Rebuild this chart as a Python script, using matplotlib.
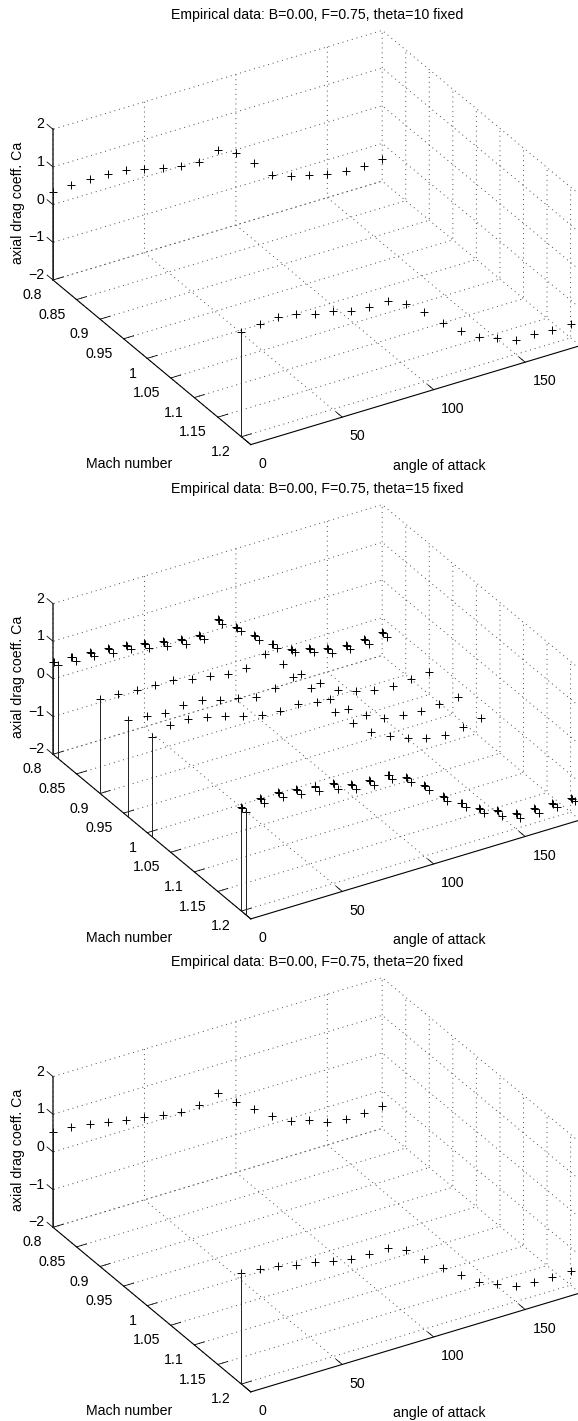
import numpy as np
import matplotlib
matplotlib.use('Agg')
import matplotlib.pyplot as plt
from mpl_toolkits.mplot3d import proj3d

plt.rcParams['font.family'] = ['Liberation Sans', 'DejaVu Sans']
plt.rcParams['font.size'] = 10.2
plt.rcParams['grid.linestyle'] = (0, (1, 4))
plt.rcParams['grid.linewidth'] = 0.7
plt.rcParams['grid.color'] = '#484848'
plt.rcParams['xtick.major.width'] = 0.6
plt.rcParams['ytick.major.width'] = 0.6
plt.rcParams['axes.linewidth'] = 0.7

WIDTH = 578
HEIGHT = 1421

alpha = list(range(0, 190, 10))

mach_ticks = [0.8, 0.85, 0.9, 0.95, 1, 1.05, 1.1, 1.15, 1.2]
mach_labels = ['0.8', '0.85', '0.9', '0.95', '1', '1.05', '1.1', '1.15', '1.2']
alpha_ticks = [0, 50, 100, 150]
ca_ticks = [-2, -1, 0, 1, 2]
ca_labels = ['\u22122', '\u22121', '0', '1', '2']

# theta = 10
ca10_m080 = [.345, .375, .388, .374, .326, .205, .104, .01, -.048, .15, -.094, -.488, -.962, -1.135, -1.255, -1.383, -1.45, -1.455, -1.425]
ca10_m120 = [.788, .853, .884, .826, .688, .621, .458, .426, .439, .204, -.147, -.576, -.944, -1.258, -1.423, -1.631, -1.619, -1.641, -1.628]

# theta = 15
ca15_m080 = [.46, .446, .424, .383, .317, .214, .12, .036, .004, .274, -.076, -.444, -.812, -1.109, -1.22, -1.366, -1.434, -1.42, -1.39]
ca15_m081 = [.487, .446, .424, .365, .308, .205, .102, .018, -.005, .256, -.085, -.471, -.83, -1.074, -1.22, -1.384, -1.443, -1.438, -1.408]
ca15_m090 = [.512, .488, .458, .435, .421, .319, .234, .15, .153, .379, -.034, -.437, -.822, -1.137, -1.327, -1.43, -1.471, -1.449, -1.41]
ca15_m096 = [.566, .526, .468, .534, .52, .382, .288, .169, .261, .398, -.032, -.462, -.882, -1.18, -1.405, -1.49, -1.522, -1.482, -1.442]
ca15_m101 = [.65, .822, .835, .724, .613, .475, .355, .306, .363, .27, -.142, -.59, -.966, -1.228, -1.427, -1.565, -1.624, -1.558, -1.482]
ca15_m120 = [.752, .844, .875, .799, .742, .657, .492, .452, .456, .248, -.12, -.559, -.873, -1.162, -1.37, -1.588, -1.593, -1.615, -1.619]
ca15_m121 = [.734, .835, .84, .764, .698, .622, .474, .434, .447, .23, -.138, -.577, -.891, -1.197, -1.405, -1.606, -1.637, -1.624, -1.592]

# theta = 20
ca20_m080 = [.531, .508, .442, .348, .273, .196, .112, .045, .075, .257, -.138, -.462, -.803, -1.082, -1.202, -1.384, -1.451, -1.447, -1.398]
ca20_m120 = [.938, .915, .831, .711, .644, .542, .439, .435, .447, .239, -.129, -.524, -.856, -1.188, -1.396, -1.596, -1.637, -1.65, -1.628]

panels = [
    ('Empirical data: B=0.00, F=0.75, theta=10 fixed', 280.0,
     [(0.8, ca10_m080), (1.2, ca10_m120)]),
    ('Empirical data: B=0.00, F=0.75, theta=15 fixed', 754.3,
     [(0.8, ca15_m080), (0.802, ca15_m080), (0.81, ca15_m081), (0.9, ca15_m090), (0.96, ca15_m096),
      (1.01, ca15_m101), (1.2, ca15_m120), (1.202, ca15_m120), (1.21, ca15_m121)]),
    ('Empirical data: B=0.00, F=0.75, theta=20 fixed', 1227.3,
     [(0.8, ca20_m080), (1.2, ca20_m120)]),
]
# repeated runs that sit almost on top of another one, no stem of their own
no_stem = [0.802, 1.202]

fig = plt.figure(figsize=(WIDTH / 100, HEIGHT / 100), dpi=100)


def to_pixels(ax, m, a, z):
    x2, y2, _ = proj3d.proj_transform(m, a, z, ax.get_proj())
    return ax.transData.transform((x2, y2))


def place(ax, corner_y):
    # shift and scale the box so the left floor corner lands on the reference pixel
    zoom = 1.0
    for i in range(3):
        ax.set_box_aspect((384, 384, 174), zoom=zoom)
        fig.canvas.draw()
        p0 = to_pixels(ax, 0.8, 0, -2)
        p1 = to_pixels(ax, 0.8, 180, -2)
        zoom = zoom * 329.2 / (p1[0] - p0[0])
    ax.set_box_aspect((384, 384, 174), zoom=zoom)
    fig.canvas.draw()
    p0 = to_pixels(ax, 0.8, 0, -2)
    pos = ax.get_position()
    dx = (53.0 - p0[0]) / WIDTH
    dy = ((HEIGHT - corner_y) - p0[1]) / HEIGHT
    ax.set_position([pos.x0 + dx, pos.y0 + dy, pos.width, pos.height])


for title, corner_y, series in panels:
    side = 900
    left = (53 - 150) / WIDTH
    bottom = (HEIGHT - corner_y - 450) / HEIGHT
    ax = fig.add_axes([left, bottom, side / WIDTH, side / HEIGHT], projection='3d', proj_type='ortho')
    ax.patch.set_alpha(0)
    ax.view_init(elev=30, azim=-31)

    for m, ca in series:
        ax.plot([m] * len(alpha), alpha, ca, 'k+', ms=5.8, mew=0.7)
        if m not in no_stem:
            ax.plot([m, m], [alpha[0], alpha[0]], [ca[0], -2], color='#202020', lw=0.7)

    ax.set_xlim(0.8, 1.22, view_margin=0)
    ax.set_ylim(0, 180, view_margin=0)
    ax.set_zlim(-2, 2, view_margin=0)
    ax.set_xticks(mach_ticks, labels=mach_labels, ha='right', va='top')
    ax.set_yticks(alpha_ticks, labels=[str(a) for a in alpha_ticks], ha='left', va='top')
    ax.set_zticks(ca_ticks, labels=ca_labels, ha='right', va='baseline')
    ax.zaxis.set_ticks_position('lower')
    # ticks on the height axis run along the Mach direction, as in the reference
    ax.zaxis._get_tickdir = lambda pos: 0

    for axis in (ax.xaxis, ax.yaxis, ax.zaxis):
        axis.pane.set_visible(False)
        axis.line.set_linewidth(0.8)
        axis.line.set_color('k')
        axis._axinfo['tick']['inward_factor'] = 0
        axis._axinfo['tick']['outward_factor'] = 0.375
    ax.zaxis.line.set_linewidth(1.1)
    ax.zaxis.line.set_color('#303030')
    ax.tick_params(axis='x', pad=3)
    ax.tick_params(axis='y', pad=5)
    ax.tick_params(axis='z', pad=-2.5)

    place(ax, corner_y)

    fig.text(317 / WIDTH, 1 - (corner_y - 265.5) / HEIGHT, title, ha='center', va='center')
    fig.text(129 / WIDTH, 1 - (corner_y + 184) / HEIGHT, 'Mach number', ha='center', va='center')
    fig.text(439 / WIDTH, 1 - (corner_y + 186) / HEIGHT, 'angle of attack', ha='center', va='center')
    fig.text(18.5 / WIDTH, 1 - (corner_y - 77) / HEIGHT, 'axial drag coeff. Ca', ha='center', va='center', rotation=90)

fig.savefig('out.png', dpi=100)
